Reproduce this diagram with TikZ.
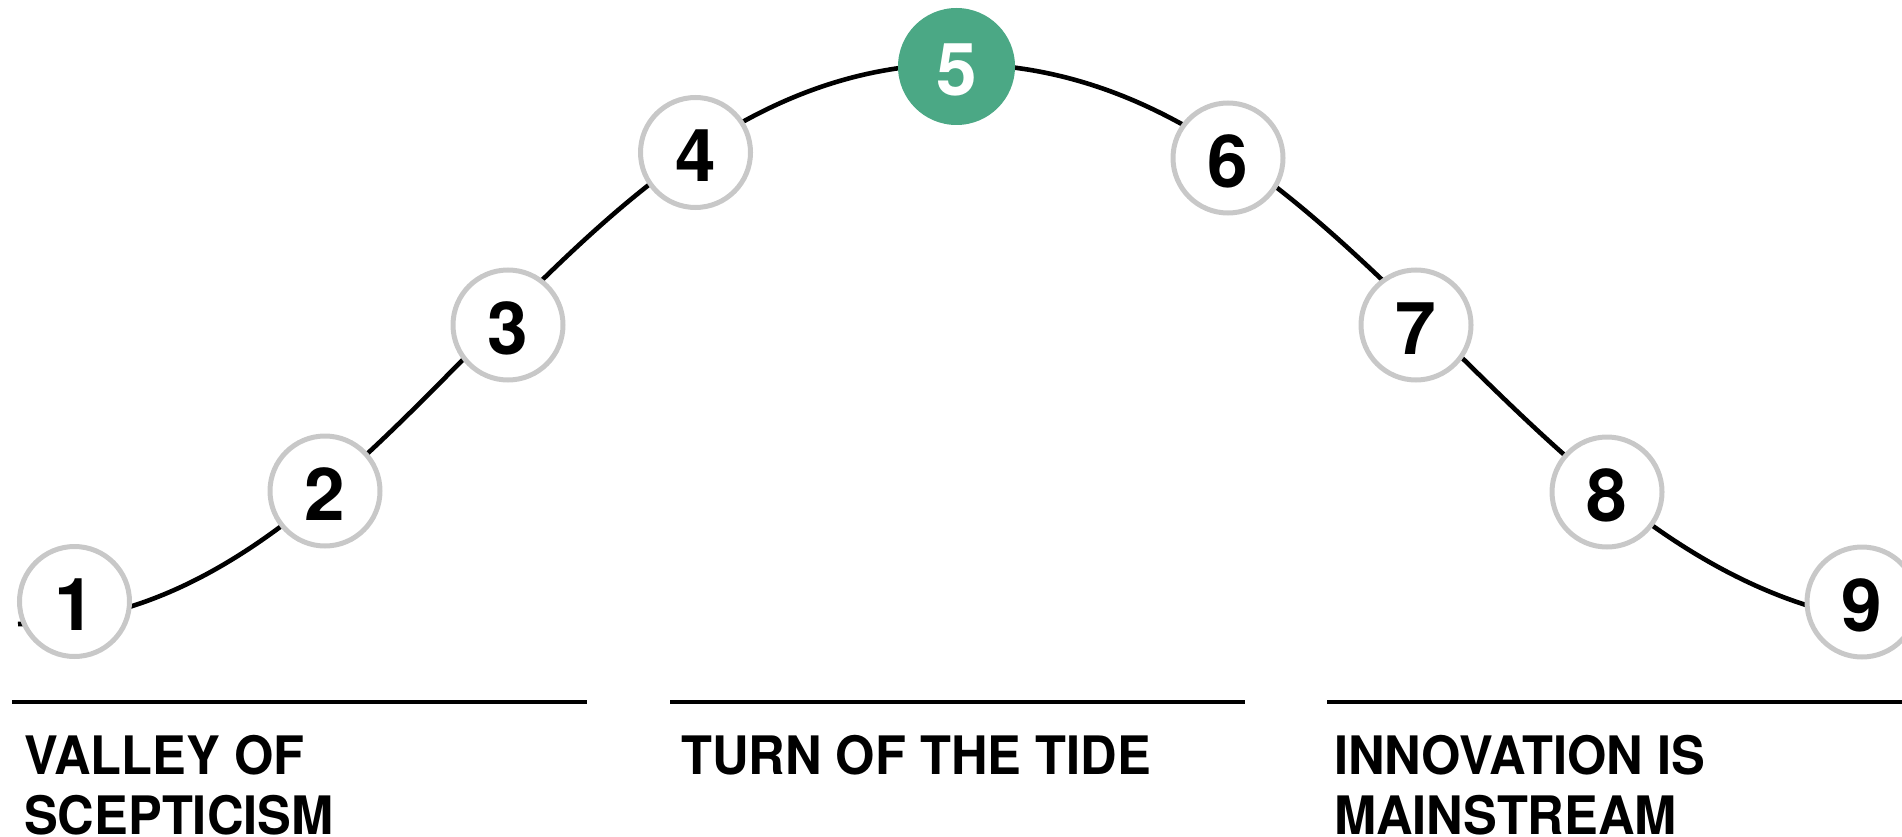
\documentclass[tikz,border=0pt]{standalone}
\usepackage{fontspec}
\setmainfont{TeX Gyre Heros}
\newfontfamily\lblfont[FakeStretch=0.955]{TeX Gyre Heros}
\definecolor{stagegrey}{RGB}{200,200,200}
\definecolor{peakgreen}{RGB}{75,168,133}
\begin{document}
\begin{tikzpicture}[x=1pt,y=-1pt,
  stage/.style={circle, draw=stagegrey, line width=5pt, fill=white,
    minimum size=110pt, inner sep=0pt, text height=58pt, text depth=0pt,
    font=\bfseries\fontsize{73}{73}\selectfont},
  peakstage/.style={circle, fill=peakgreen, text=white, minimum size=117pt,
    inner sep=0pt, text height=58pt, text depth=0pt,
    font=\bfseries\fontsize{73}{73}\selectfont},
  curveline/.style={line width=4.6pt, black},
  phaserule/.style={line width=4.5pt, black},
  phase/.style={anchor=base west, align=left, inner sep=0pt,
    font=\lblfont\bfseries\fontsize{53}{60}\selectfont}]
\useasboundingbox (0,0) rectangle (1902,837);

% curve
\coordinate (start) at (18,624);
\coordinate (peak) at (958,64);
\coordinate (finish) at (1940,626);
\draw[curveline] (start) .. controls (394,624) and (556,64) .. (peak)
  .. controls (1370,64) and (1528,626) .. (finish);

% stages
\node[stage] (n1) at (74.5,601.5) {1};
\node[stage] (n2) at (325,491) {2};
\node[stage] (n3) at (508,325) {3};
\node[stage] (n4) at (695.5,152.5) {4};
\node[peakstage] (n5) at (956.5,66.5) {5};
\node[stage] (n6) at (1228,158) {6};
\node[stage] (n7) at (1416,325) {7};
\node[stage] (n8) at (1607,492) {8};
\node[stage] (n9) at (1862,602) {9};

% phase rules
\draw[phaserule] (12,702) -- (587,702);
\draw[phaserule] (670,702) -- (1245,702);
\draw[phaserule] (1327,702) -- (1902,702);

% phase labels (base anchor = baseline of the last line)
\node[phase] (p1) at (24,834) {VALLEY OF\\SCEPTICISM};
\node[phase] (p2) at (681,774) {TURN OF THE TIDE};
\node[phase] (p3) at (1334,834) {INNOVATION IS\\MAINSTREAM};
\end{tikzpicture}
\end{document}
